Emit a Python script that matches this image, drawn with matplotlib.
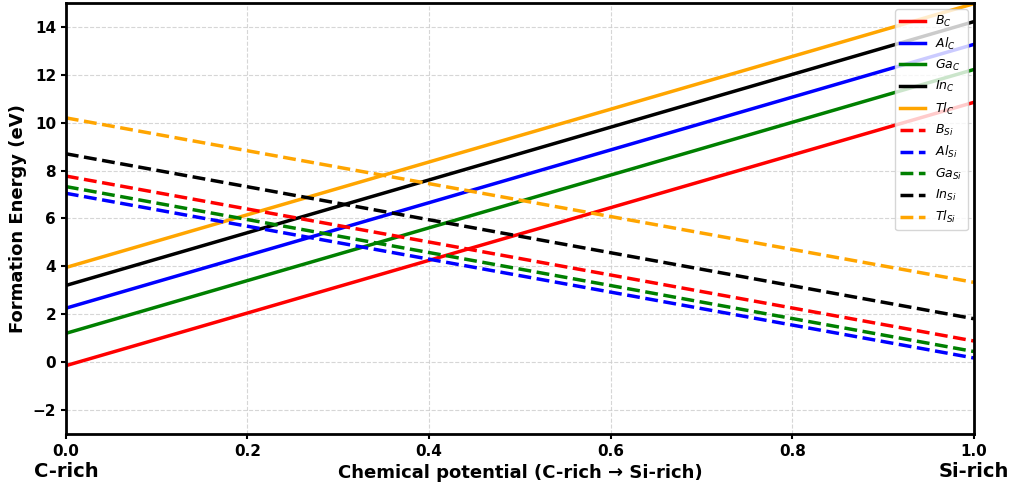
import matplotlib
matplotlib.use("Agg")
import matplotlib.pyplot as plt
import numpy as np

# Chemical potential endpoints (C-rich -> Si-rich)
mu = [0.0, 1.0]

dopants = ["B", "Al", "Ga", "In", "Tl"]
colors = ["red", "blue", "green", "black", "orange"]

# Formation energies (eV) at mu = 0 and mu = 1
e_c_site = {
    "B": [-0.15, 10.85],
    "Al": [2.25, 13.27],
    "Ga": [1.20, 12.22],
    "In": [3.20, 14.22],
    "Tl": [3.95, 14.97],
}
e_si_site = {
    "B": [7.77, 0.88],
    "Al": [7.05, 0.17],
    "Ga": [7.33, 0.44],
    "In": [8.70, 1.81],
    "Tl": [10.20, 3.33],
}

fig = plt.figure(figsize=(10.13, 4.87), dpi=100)
ax = fig.add_axes([0.065, 0.109, 0.8965, 0.885])

for d, c in zip(dopants, colors):
    ax.plot(mu, e_c_site[d], color=c, lw=2.5, label=rf"${d}_C$")
for d, c in zip(dopants, colors):
    ax.plot(mu, e_si_site[d], color=c, lw=2.5, ls="--", label=rf"${d}_{{Si}}$")

ax.set_xlim(0, 1)
ax.set_ylim(-3, 15)
ax.set_yticks(range(-2, 15, 2))
ax.set_xlabel("Chemical potential (C-rich → Si-rich)", fontsize=13, fontweight="bold")
ax.set_ylabel("Formation Energy (eV)", fontsize=13, fontweight="bold")
ax.grid(True, linestyle="--", color="#cccccc", alpha=0.8)
ax.tick_params(labelsize=11, width=1.5)
for lab in ax.get_xticklabels() + ax.get_yticklabels():
    lab.set_fontweight("bold")
for s in ax.spines.values():
    s.set_linewidth(2)

ax.text(0, -0.065, "C-rich", transform=ax.transAxes, ha="center", va="top",
        fontsize=14, fontweight="bold")
ax.text(1, -0.065, "Si-rich", transform=ax.transAxes, ha="center", va="top",
        fontsize=14, fontweight="bold")

ax.legend(loc="upper right", fontsize=9)

fig.savefig("out.png", dpi=100)
